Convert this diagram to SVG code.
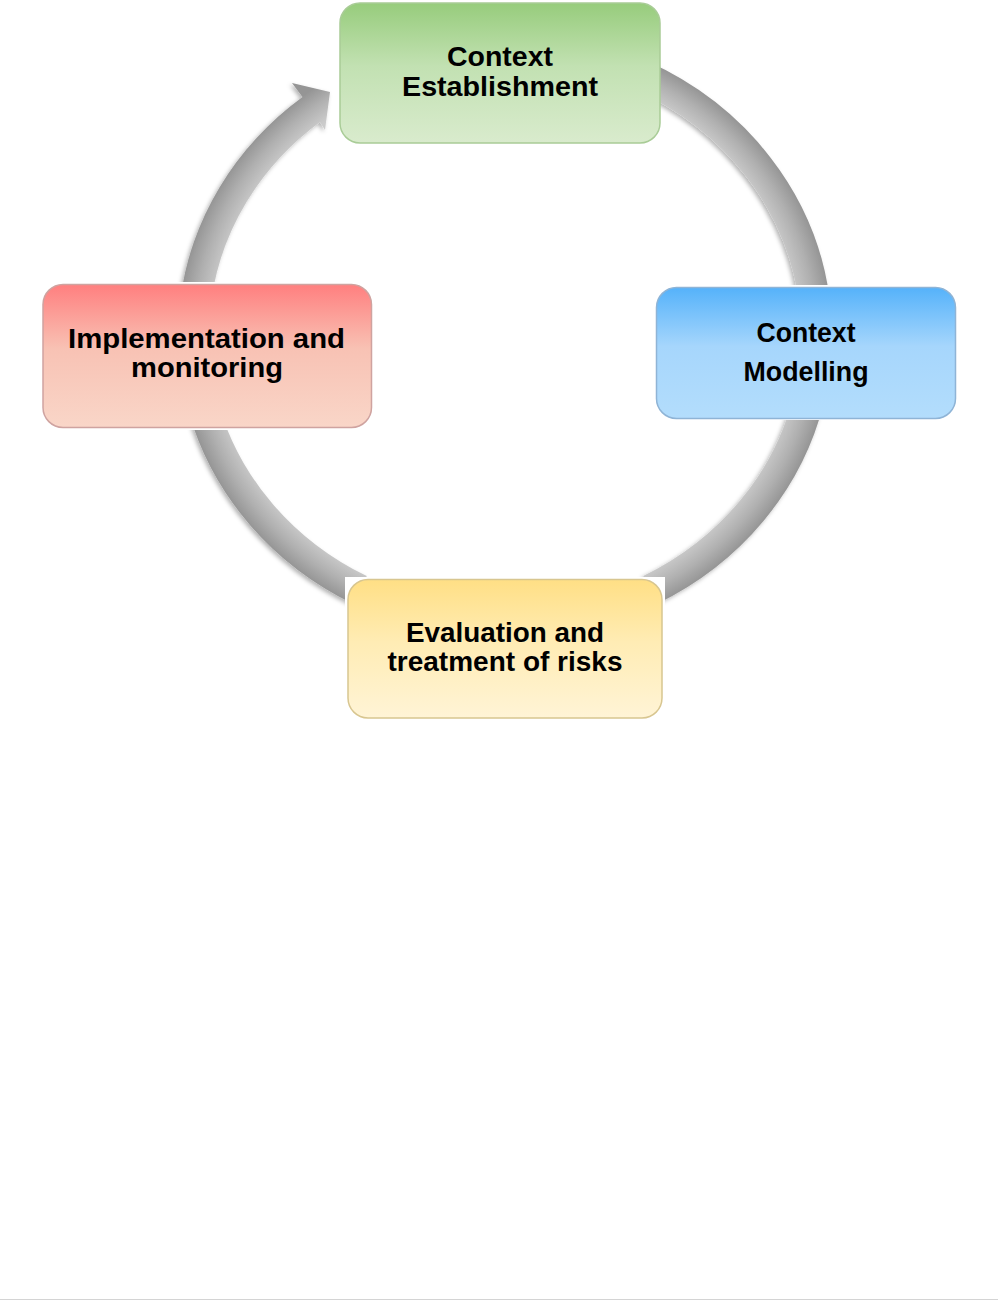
<svg xmlns="http://www.w3.org/2000/svg" width="998" height="1301" viewBox="0 0 998 1301">
<style>
.lbl{font-family:"Liberation Sans",Arial,sans-serif;font-weight:bold;font-size:27px;fill:#000;text-anchor:middle}
.band{fill:none;stroke:url(#bandGrad);stroke-width:31}
.backing{fill:#fff}
</style>
<defs>
<radialGradient id="bandGrad" gradientUnits="userSpaceOnUse" cx="505" cy="335" r="327" gradientTransform="translate(505 335) scale(1 0.93) translate(-505 -335)">
<stop offset="0.89" stop-color="#cbcbcb"/>
<stop offset="0.95" stop-color="#b0b0b0"/>
<stop offset="1" stop-color="#959595"/>
</radialGradient>
<filter id="sh" x="-10%" y="-10%" width="120%" height="120%">
<feDropShadow dx="-2" dy="2" stdDeviation="2" flood-color="#000" flood-opacity="0.3"/>
</filter>
<linearGradient id="gGreen" x1="0" y1="0" x2="0" y2="1">
<stop offset="0" stop-color="#97cc7c"/>
<stop offset="0.45" stop-color="#c2e1b2"/>
<stop offset="1" stop-color="#d9ebcd"/>
</linearGradient>
<linearGradient id="gBlue" x1="0" y1="0" x2="0" y2="1">
<stop offset="0" stop-color="#55b2fa"/>
<stop offset="0.45" stop-color="#a6d6fc"/>
<stop offset="1" stop-color="#b3ddfc"/>
</linearGradient>
<linearGradient id="gRed" x1="0" y1="0" x2="0" y2="1">
<stop offset="0" stop-color="#ff7f7f"/>
<stop offset="0.45" stop-color="#f8c2b4"/>
<stop offset="1" stop-color="#f9d6c8"/>
</linearGradient>
<linearGradient id="gYellow" x1="0" y1="0" x2="0" y2="1">
<stop offset="0" stop-color="#ffdf85"/>
<stop offset="0.45" stop-color="#ffecb4"/>
<stop offset="1" stop-color="#fff4d6"/>
</linearGradient>
</defs>
<rect x="0" y="0" width="998" height="1301" fill="#fff"/>
<g id="connectors" filter="url(#sh)">
<path id="arc-impl-context" d="M 180.2 300 A 327 304 0 0 1 302.5 97 L 292 83 L 330 92 L 325 130 L 320 122 A 296 273 0 0 0 211.4 300 Z" fill="url(#bandGrad)"/>
<path id="arc-context-modelling" class="band" d="M 640 75 A 311.5 288.5 0 0 1 814.2 300"/>
<path id="arc-modelling-eval" class="band" d="M 808.5 400 A 311.5 288.5 0 0 1 650 590"/>
<path id="arc-eval-impl" class="band" d="M 360 590 A 311.5 288.5 0 0 1 204.2 410"/>
</g>
<g id="node-context-establishment">
<rect x="340" y="3" width="320" height="140" rx="20" fill="url(#gGreen)" stroke="#a9cc97" stroke-width="1.5"/>
<text class="lbl" x="500" y="66" textLength="106" lengthAdjust="spacingAndGlyphs">Context</text>
<text class="lbl" x="500" y="96" textLength="196" lengthAdjust="spacingAndGlyphs">Establishment</text>
</g>
<g id="node-context-modelling">
<rect class="backing" x="654" y="285" width="304" height="135"/>
<rect x="656.5" y="287.5" width="299" height="131" rx="20" fill="url(#gBlue)" stroke="#8fb4d6" stroke-width="1.5"/>
<text class="lbl" x="806" y="342" font-size="26" textLength="99" lengthAdjust="spacingAndGlyphs">Context</text>
<text class="lbl" x="806" y="381" font-size="26" textLength="125" lengthAdjust="spacingAndGlyphs">Modelling</text>
</g>
<g id="node-evaluation">
<rect class="backing" x="345" y="577" width="320" height="144"/>
<rect x="348" y="579.5" width="314" height="138.5" rx="20" fill="url(#gYellow)" stroke="#d8c690" stroke-width="1.5"/>
<text class="lbl" x="505" y="642" textLength="198" lengthAdjust="spacingAndGlyphs">Evaluation and</text>
<text class="lbl" x="505" y="671" textLength="235" lengthAdjust="spacingAndGlyphs">treatment of risks</text>
</g>
<g id="node-implementation">
<rect class="backing" x="40" y="282" width="335" height="148"/>
<rect x="43" y="284.5" width="328.5" height="143" rx="20" fill="url(#gRed)" stroke="#cfa3a0" stroke-width="1.5"/>
<text class="lbl" x="206.5" y="348" textLength="277" lengthAdjust="spacingAndGlyphs">Implementation and</text>
<text class="lbl" x="207" y="377" textLength="152" lengthAdjust="spacingAndGlyphs">monitoring</text>
</g>
<line x1="0" y1="1299.5" x2="998" y2="1299.5" stroke="#d4d4d4" stroke-width="1"/>
</svg>
